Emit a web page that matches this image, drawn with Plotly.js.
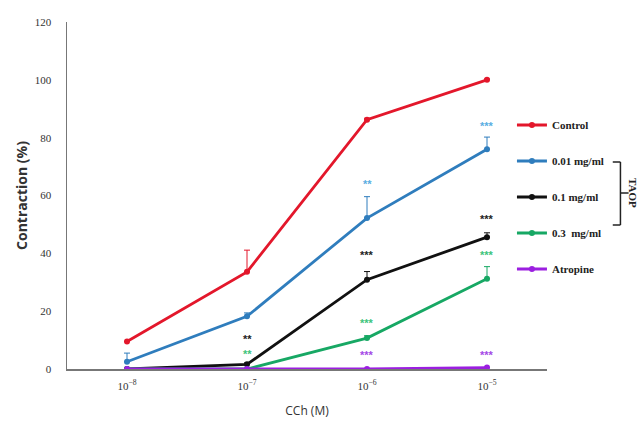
<!DOCTYPE html>
<html><head><meta charset="utf-8">
<script src="https://cdn.plot.ly/plotly-3.0.1.min.js"></script>
<style>html,body{margin:0;padding:0;background:#fff}#c{width:641px;height:423px}</style>
</head><body><div id="c"></div>
<script>
var categories = ["10<sup>−8</sup>","10<sup>−7</sup>","10<sup>−6</sup>","10<sup>−5</sup>"];
var seriesNames = ["Control","0.01 mg/ml","0.1 mg/ml","0.3  mg/ml","Atropine"];
var control   = [9.5, 33.6, 86.2, 100];
var control_e = [0, 7.5, 0.5, 0.3];
var d001      = [2.5, 18.2, 52.2, 76.0];
var d001_e    = [3.0, 1.2, 7.4, 4.2];
var d01       = [0, 1.6, 30.9, 45.6];
var d01_e     = [0, 0.5, 2.8, 1.5];
var d03       = [0, 0, 10.7, 31.2];
var d03_e     = [0, 0, 0.8, 4.2];
var atropine  = [0, 0, 0, 0.5];
var atropine_e= [0, 0, 0, 0];
var sigText   = ["***","**","***","***","***","***","**","**","***","***"];
var sigCat    = [3, 2, 3, 2, 3, 2, 1, 1, 2, 3];
var sigY      = [84, 64, 52, 39.5, 39.5, 16, 10.4, 5.3, 4.8, 4.8];
var sigSeries = [1, 1, 2, 2, 3, 3, 2, 3, 4, 4];
var bracketLabel = "TAOP";

var colors = ["#e3172b","#2f7dbd","#111111","#17a864","#9b1fe0"];
var sigColors = ["#e3172b","#5aaee2","#222222","#3dc47c","#a448e6"];
var vals = [control, d001, d01, d03, atropine];
var errs = [control_e, d001_e, d01_e, d03_e, atropine_e];

var traces = vals.map(function(v,i){
  return {
    x: categories, y: v, type:'scatter', mode:'lines+markers', name: seriesNames[i],
    line:{color:colors[i], width:2.8}, marker:{color:colors[i], size:6},
    error_y:{type:'data', symmetric:false, array:errs[i], arrayminus:v.map(function(){return 0;}),
      color:colors[i], thickness:1, width:3, visible:true},
    legendgroup:'g'+i
  };
});

var annotations = sigText.map(function(t,k){
  return {x: categories[sigCat[k]], y: sigY[k], xref:'x', yref:'y', text:'<b>'+t+'</b>', showarrow:false,
    font:{family:'Liberation Sans, Arial', size:11, color:sigColors[sigSeries[k]]}, yanchor:'middle', borderpad:0};
});
annotations.push({xref:'paper', yref:'paper', x:(633-67)/480, y:(369-193)/347, text:'<b>'+bracketLabel+'</b>', textangle:90,
  showarrow:false, font:{family:'Liberation Serif', size:11, color:'#222'}, xanchor:'center', yanchor:'middle'});

var layout = {
  width:641, height:423, margin:{l:67, r:94, t:22, b:54},
  paper_bgcolor:'#fff', plot_bgcolor:'#fff', showlegend:true,
  xaxis:{type:'category', range:[-0.5,3.5], showgrid:false, zeroline:false, showline:true,
    linecolor:'#777', linewidth:1.5, ticks:'', ticklabelstandoff:6,
    tickfont:{family:'Liberation Serif', size:11, color:'#333'},
    title:{text:'CCh (M)', font:{family:'Open Sans, Liberation Sans', size:12, color:'#333'}, standoff:16}},
  yaxis:{range:[0,120], dtick:20, showgrid:false, zeroline:false, showline:true,
    linecolor:'#777', linewidth:1.5, ticks:'', ticklabelstandoff:12,
    tickfont:{family:'Liberation Serif', size:11, color:'#333'},
    title:{text:'<b>Contraction (%)</b>', font:{family:'Open Sans, Liberation Sans', size:14, color:'#333'}, standoff:4}},
  legend:{x:0.927, xanchor:'left', y:0.745, yanchor:'top', bgcolor:'rgba(0,0,0,0)',
    font:{family:'Liberation Serif', size:11, color:'#222', weight:'bold'}, tracegroupgap:17, itemwidth:30},
  annotations: annotations,
  shapes:[
    {type:'line', xref:'paper', yref:'paper', x0:1.153, x1:1.153, y0:(369-162)/347, y1:(369-225)/347, line:{color:'#222', width:1.5}},
    {type:'line', xref:'paper', yref:'paper', x0:1.137, x1:1.153, y0:(369-162)/347, y1:(369-162)/347, line:{color:'#222', width:1.5}},
    {type:'line', xref:'paper', yref:'paper', x0:1.137, x1:1.153, y0:(369-225)/347, y1:(369-225)/347, line:{color:'#222', width:1.5}},
    {type:'line', xref:'paper', yref:'paper', x0:1.153, x1:1.170, y0:(369-193)/347, y1:(369-193)/347, line:{color:'#222', width:1.5}}
  ]
};
Plotly.newPlot('c', traces, layout, {displayModeBar:false, staticPlot:true});
</script></body></html>
